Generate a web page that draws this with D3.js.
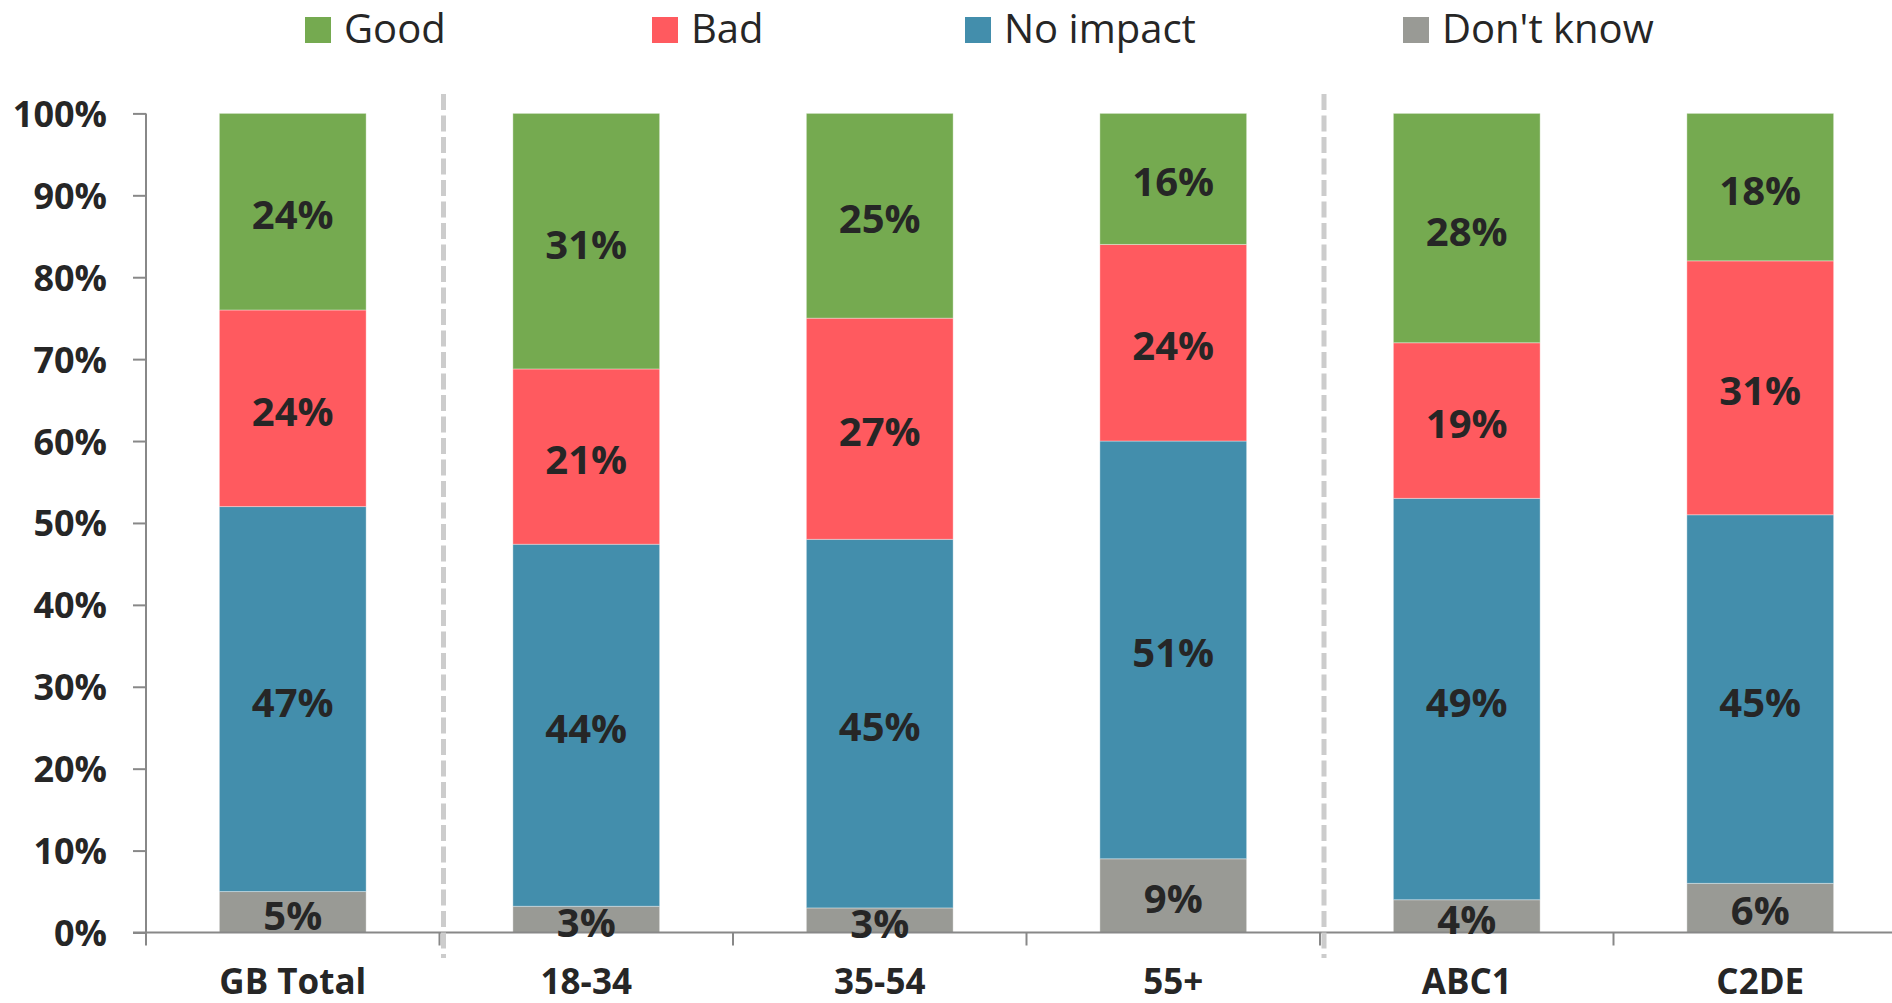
<!DOCTYPE html>
<html>
<head>
<meta charset="utf-8">
<script src="https://cdn.jsdelivr.net/npm/d3@7"></script>
<style>
  html, body { margin: 0; padding: 0; background: #fff; }
  svg { display: block; }
  text { font-family: "Open Sans", "Noto Sans", sans-serif; fill: #262626; }
</style>
</head>
<body>
<svg id="chart" width="1892" height="1003"></svg>
<script>
// ---- data ----
const categories = ["GB Total", "18-34", "35-54", "55+", "ABC1", "C2DE"];
const seriesNames = ["Don't know", "No impact", "Bad", "Good"];   // stacking order, bottom to top
const legendOrder = ["Good", "Bad", "No impact", "Don't know"];
const dontKnow = [5, 3.2, 3, 9, 4, 6];
const noImpact = [47, 44.2, 45, 51, 49, 45];
const bad      = [24, 21.4, 27, 24, 19, 31];
const good     = [24, 31.2, 25, 16, 28, 18];
const yTickValues = [0, 10, 20, 30, 40, 50, 60, 70, 80, 90, 100];
const separatorsAfter = ["GB Total", "55+"];

// ---- styles / layout ----
const colors = { "Good": "#75AA50", "Bad": "#FF5A5F", "No impact": "#438EAC", "Don't know": "#999A95" };
const W = 1892, H = 1003;
const plotLeft = 146, plotRight = 1907, plotTop = 113.4, plotBottom = 932.5;

const rows = categories.map((c, i) => ({
  cat: c,
  "Don't know": dontKnow[i], "No impact": noImpact[i], "Bad": bad[i], "Good": good[i]
}));

const svg = d3.select("#chart");

const x = d3.scaleBand().domain(categories).range([plotLeft, plotRight])
  .paddingInner(0.5).paddingOuter(0.25);
const y = d3.scaleLinear().domain([0, 100]).range([plotBottom, plotTop]);

const stack = d3.stack().keys(seriesNames);
const stacked = stack(rows);

// bars
const gBars = svg.append("g");
stacked.forEach(layer => {
  gBars.selectAll(null).data(layer).enter().append("rect")
    .attr("x", d => x(d.data.cat))
    .attr("width", x.bandwidth())
    .attr("y", d => y(d[1]))
    .attr("height", d => y(d[0]) - y(d[1]))
    .attr("fill", colors[layer.key])
    .attr("stroke", "rgba(255,255,255,0.35)")
    .attr("stroke-width", 1);
});

// y axis
const yAxis = d3.axisLeft(y).tickValues(yTickValues).tickSize(13).tickPadding(0)
  .tickFormat(d => d + "%");
const gy = svg.append("g").attr("transform", `translate(${plotLeft},0)`).call(yAxis);
gy.select(".domain").remove();
gy.selectAll(".tick line").attr("stroke", "#888").attr("stroke-width", 2);
gy.selectAll(".tick text").remove();
svg.append("line").attr("x1", plotLeft).attr("x2", plotLeft)
  .attr("y1", y(100)).attr("y2", plotBottom + 13)
  .attr("stroke", "#888").attr("stroke-width", 2);
svg.append("g").selectAll("text").data(yTickValues).enter().append("text")
  .attr("x", 107).attr("y", d => y(d))
  .attr("text-anchor", "end").attr("dominant-baseline", "central")
  .attr("font-size", 36).attr("font-weight", 700)
  .text(d => d + "%");

// x axis line
svg.append("line").attr("x1", plotLeft - 13).attr("x2", W)
  .attr("y1", plotBottom).attr("y2", plotBottom)
  .attr("stroke", "#888").attr("stroke-width", 2);
// category boundary ticks
const step = x.step();
const bounds = d3.range(1, categories.length).map(i => x(categories[i]) - step * x.paddingInner() / 2);
svg.append("g").selectAll("line").data(bounds).enter().append("line")
  .attr("x1", d => d).attr("x2", d => d)
  .attr("y1", plotBottom).attr("y2", plotBottom + 13)
  .attr("stroke", "#888").attr("stroke-width", 2);

// dashed separators
svg.append("g").selectAll("line").data(separatorsAfter).enter().append("line")
  .attr("x1", d => x(d) + x.bandwidth() + step * x.paddingInner() / 2 + 4)
  .attr("x2", d => x(d) + x.bandwidth() + step * x.paddingInner() / 2 + 4)
  .attr("y1", 94).attr("y2", 958)
  .attr("stroke", "#CCCCCC").attr("stroke-width", 5)
  .attr("stroke-dasharray", "16,5.5");

// category labels
svg.append("g").selectAll("text").data(categories).enter().append("text")
  .attr("x", d => x(d) + x.bandwidth() / 2).attr("y", 994)
  .attr("text-anchor", "middle")
  .attr("font-size", 35).attr("font-weight", 700)
  .text(d => d);

// value labels
const gLab = svg.append("g");
stacked.forEach(layer => {
  gLab.selectAll(null).data(layer).enter().append("text")
    .attr("x", d => x(d.data.cat) + x.bandwidth() / 2)
    .attr("y", d => (y(d[0]) + y(d[1])) / 2 + 2)
    .attr("text-anchor", "middle").attr("dominant-baseline", "central")
    .attr("font-size", 40).attr("font-weight", 700)
    .text(d => Math.round(d[1] - d[0]) + "%");
});

// legend
const legendX = [305, 652, 965, 1403];
const gLeg = svg.append("g");
legendOrder.forEach((k, i) => {
  gLeg.append("rect").attr("x", legendX[i]).attr("y", 17).attr("width", 26).attr("height", 26)
    .attr("fill", colors[k]);
  gLeg.append("text").attr("x", legendX[i] + 39).attr("y", 43)
    .attr("font-size", 40).attr("font-weight", 400)
    .text(k);
});
</script>
</body>
</html>
